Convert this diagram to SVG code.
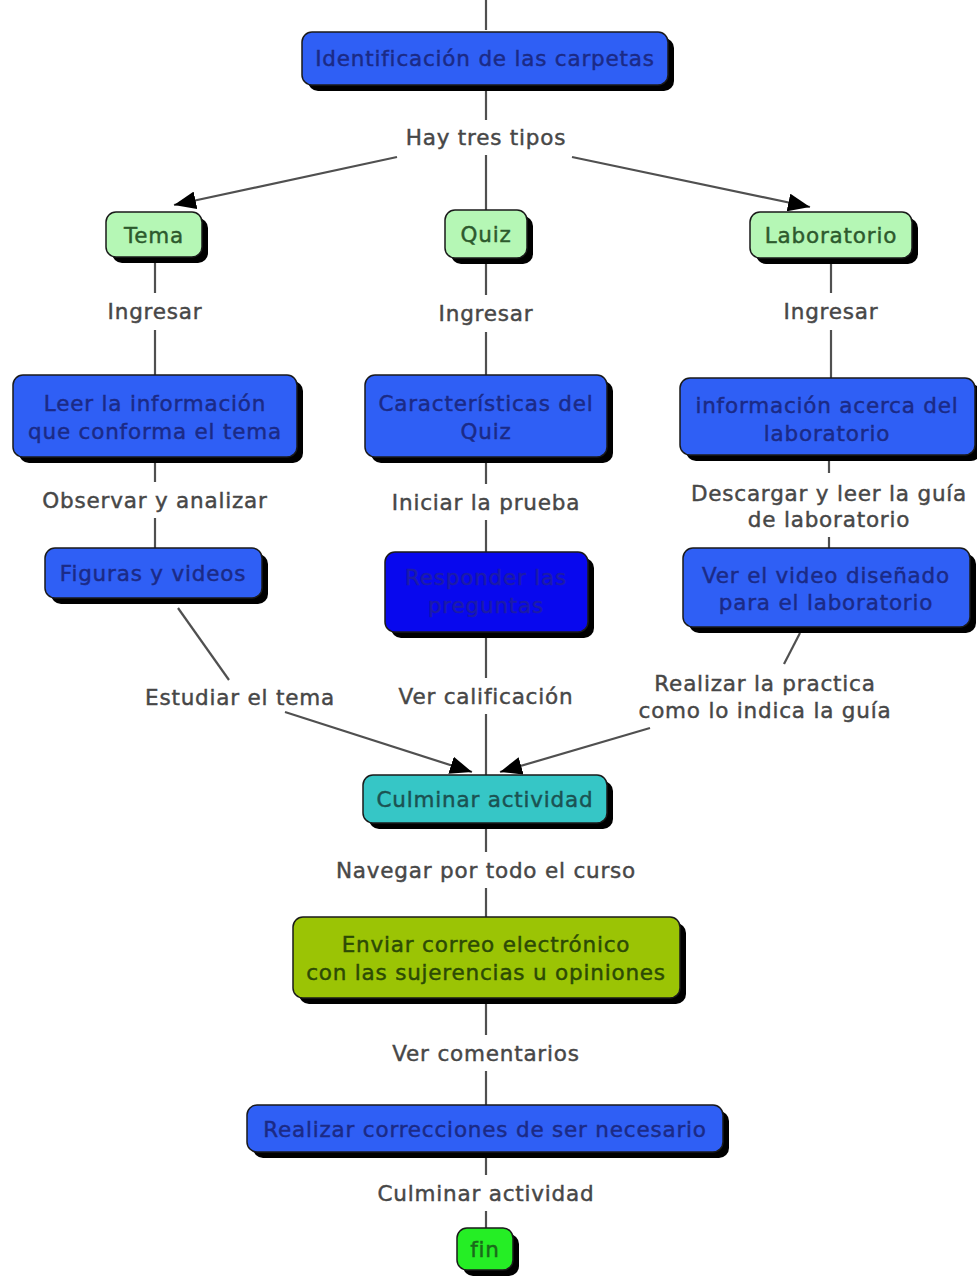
<svg xmlns="http://www.w3.org/2000/svg" width="977" height="1281" viewBox="0 0 977 1281">
<style>
text{font-family:"DejaVu Sans",Verdana,sans-serif;font-size:21.5px;letter-spacing:0.8px;text-anchor:middle;stroke-width:0.45px}
.lbl{fill:#474747;stroke:#474747}
.sh{fill:#000}
.nd{stroke:#1a1a1a;stroke-width:1.5}
.blue{fill:#2f5ff5}
.blt{fill:#1b2a86;stroke:#1b2a86}
.lg{fill:#b5f7b5}
.lgt{fill:#2d5a2d;stroke:#2d5a2d}
.con line{stroke:#505050;stroke-width:2.2}
.arr{marker-end:url(#ah)}
</style>
<defs>
<marker id="ah" markerUnits="userSpaceOnUse" markerWidth="22" markerHeight="18" viewBox="0 0 22 18" refX="22" refY="9" orient="auto">
<path d="M0,0 L22,9 L0,18 Z" fill="#000"/>
</marker>
</defs>
<rect width="977" height="1281" fill="#fff"/>
<g class="con" id="connectors">
<line x1="486" y1="0" x2="486" y2="30"/>
<line x1="486" y1="88" x2="486" y2="120"/>
<line x1="486" y1="155" x2="486" y2="210"/>
<line class="arr" x1="397" y1="157" x2="174" y2="205"/>
<line class="arr" x1="572" y1="157" x2="810" y2="207"/>
<line x1="155" y1="262" x2="155" y2="293"/>
<line x1="155" y1="330" x2="155" y2="375"/>
<line x1="486" y1="262" x2="486" y2="295"/>
<line x1="486" y1="332" x2="486" y2="375"/>
<line x1="831" y1="262" x2="831" y2="293"/>
<line x1="831" y1="330" x2="831" y2="378"/>
<line x1="155" y1="462" x2="155" y2="482"/>
<line x1="155" y1="518" x2="155" y2="548"/>
<line x1="486" y1="462" x2="486" y2="484"/>
<line x1="486" y1="520" x2="486" y2="552"/>
<line x1="829" y1="460" x2="829" y2="473"/>
<line x1="829" y1="537" x2="829" y2="548"/>
<line x1="178" y1="608" x2="229" y2="680"/>
<line class="arr" x1="285" y1="712" x2="472" y2="772"/>
<line x1="486" y1="637" x2="486" y2="678"/>
<line x1="486" y1="714" x2="486" y2="775"/>
<line x1="800" y1="633" x2="784" y2="664"/>
<line class="arr" x1="650" y1="728" x2="500" y2="772"/>
<line x1="486" y1="828" x2="486" y2="852"/>
<line x1="486" y1="888" x2="486" y2="917"/>
<line x1="486" y1="1003" x2="486" y2="1035"/>
<line x1="486" y1="1071" x2="486" y2="1105"/>
<line x1="486" y1="1157" x2="486" y2="1175"/>
<line x1="486" y1="1211" x2="486" y2="1228"/>
</g>
<g id="labels">
<text class="lbl" x="486" y="145">Hay tres tipos</text>
<text class="lbl" x="155" y="319">Ingresar</text>
<text class="lbl" x="486" y="321">Ingresar</text>
<text class="lbl" x="831" y="319">Ingresar</text>
<text class="lbl" x="155" y="508">Observar y analizar</text>
<text class="lbl" x="486" y="510">Iniciar la prueba</text>
<text class="lbl" x="829" y="501">Descargar y leer la guía</text>
<text class="lbl" x="829" y="527">de laboratorio</text>
<text class="lbl" x="240" y="705">Estudiar el tema</text>
<text class="lbl" x="486" y="704">Ver calificación</text>
<text class="lbl" x="765" y="691">Realizar la practica</text>
<text class="lbl" x="765" y="718">como lo indica la guía</text>
<text class="lbl" x="486" y="878">Navegar por todo el curso</text>
<text class="lbl" x="486" y="1061">Ver comentarios</text>
<text class="lbl" x="486" y="1201">Culminar actividad</text>
</g>
<g id="n-identificacion">
<rect class="sh" x="308" y="38" width="366" height="53" rx="10"/>
<rect class="nd blue" x="302" y="32" width="366" height="53" rx="10"/>
<text class="blt" x="485" y="66">Identificación de las carpetas</text>
</g>
<g id="n-tema">
<rect class="sh" x="112" y="218" width="96" height="45" rx="10"/>
<rect class="nd lg" x="106" y="212" width="96" height="45" rx="10"/>
<text class="lgt" x="154" y="243">Tema</text>
</g>
<g id="n-quiz">
<rect class="sh" x="451" y="216" width="82" height="48" rx="10"/>
<rect class="nd lg" x="445" y="210" width="82" height="48" rx="10"/>
<text class="lgt" x="486" y="242">Quiz</text>
</g>
<g id="n-laboratorio">
<rect class="sh" x="756" y="218" width="162" height="46" rx="10"/>
<rect class="nd lg" x="750" y="212" width="162" height="46" rx="10"/>
<text class="lgt" x="831" y="243">Laboratorio</text>
</g>
<g id="n-leer">
<rect class="sh" x="19" y="381" width="284" height="82" rx="10"/>
<rect class="nd blue" x="13" y="375" width="284" height="82" rx="10"/>
<text class="blt" x="155" y="411">Leer la información</text>
<text class="blt" x="155" y="439">que conforma el tema</text>
</g>
<g id="n-caracteristicas">
<rect class="sh" x="371" y="381" width="242" height="82" rx="10"/>
<rect class="nd blue" x="365" y="375" width="242" height="82" rx="10"/>
<text class="blt" x="486" y="411">Características del</text>
<text class="blt" x="486" y="439">Quiz</text>
</g>
<g id="n-info-lab">
<rect class="sh" x="686" y="384" width="295" height="77" rx="10"/>
<rect class="nd blue" x="680" y="378" width="295" height="77" rx="10"/>
<text class="blt" x="827" y="413">información acerca del</text>
<text class="blt" x="827" y="441">laboratorio</text>
</g>
<g id="n-figuras">
<rect class="sh" x="51" y="554" width="217" height="50" rx="10"/>
<rect class="nd blue" x="45" y="548" width="217" height="50" rx="10"/>
<text class="blt" x="153" y="581">Figuras y videos</text>
</g>
<g id="n-responder">
<rect class="sh" x="391" y="558" width="203" height="80" rx="10"/>
<rect class="nd" x="385" y="552" width="203" height="80" rx="10" fill="#0808ee"/>
<text x="486" y="585" fill="#1c1ca8" stroke="#1c1ca8">Responder las</text>
<text x="486" y="613" fill="#1c1ca8" stroke="#1c1ca8">preguntas</text>
</g>
<g id="n-video">
<rect class="sh" x="689" y="554" width="287" height="79" rx="10"/>
<rect class="nd blue" x="683" y="548" width="287" height="79" rx="10"/>
<text class="blt" x="826" y="583">Ver el video diseñado</text>
<text class="blt" x="826" y="610">para el laboratorio</text>
</g>
<g id="n-culminar">
<rect class="sh" x="369" y="781" width="244" height="48" rx="10"/>
<rect class="nd" x="363" y="775" width="244" height="48" rx="10" fill="#36c6c6"/>
<text x="485" y="807" fill="#1b5252" stroke="#1b5252">Culminar actividad</text>
</g>
<g id="n-enviar">
<rect class="sh" x="299" y="923" width="387" height="81" rx="10"/>
<rect class="nd" x="293" y="917" width="387" height="81" rx="10" fill="#9bc405"/>
<text x="486" y="952" fill="#2c4a05" stroke="#2c4a05">Enviar correo electrónico</text>
<text x="486" y="980" fill="#2c4a05" stroke="#2c4a05">con las sujerencias u opiniones</text>
</g>
<g id="n-realizar">
<rect class="sh" x="253" y="1111" width="476" height="47" rx="10"/>
<rect class="nd blue" x="247" y="1105" width="476" height="47" rx="10"/>
<text class="blt" x="485" y="1137">Realizar correcciones de ser necesario</text>
</g>
<g id="n-fin">
<rect class="sh" x="463" y="1234" width="56" height="42" rx="10"/>
<rect class="nd" x="457" y="1228" width="56" height="42" rx="10" fill="#25ee25"/>
<text x="485" y="1257" fill="#1a6a1a" stroke="#1a6a1a">fin</text>
</g>
</svg>
